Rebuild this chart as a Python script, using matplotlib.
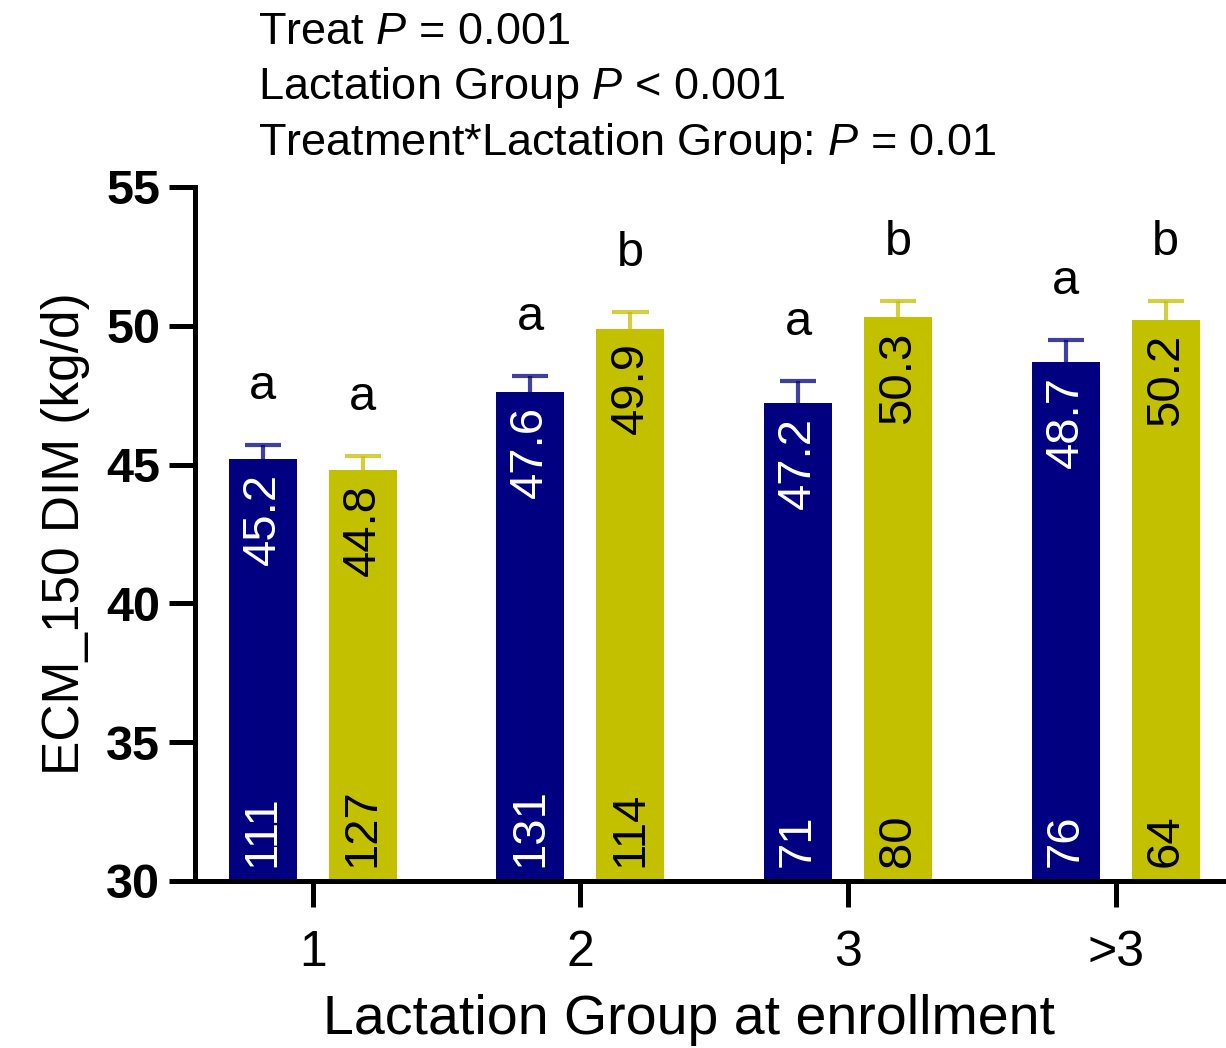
import numpy as np
import matplotlib
matplotlib.use("Agg")
import matplotlib.pyplot as plt

plt.rcParams['font.family'] = ['Liberation Sans', 'DejaVu Sans']
plt.rcParams['mathtext.fontset'] = 'custom'
plt.rcParams['mathtext.it'] = 'Liberation Sans:italic'
plt.rcParams['mathtext.rm'] = 'Liberation Sans'

# Data
grupos = ['1', '2', '3', '>3']
media_ctrl = [45.2, 47.6, 47.2, 48.7]
media_trat = [44.8, 49.9, 50.3, 50.2]
ep_ctrl = [0.5, 0.6, 0.8, 0.8]
ep_trat = [0.5, 0.6, 0.6, 0.7]
n_ctrl = [111, 131, 71, 76]
n_trat = [127, 114, 80, 64]
letras_ctrl = ['a', 'a', 'a', 'a']
letras_trat = ['a', 'b', 'b', 'b']

azul = '#000080'
amarelo = '#C3C000'

fig = plt.figure(figsize=(12.26, 10.48), dpi=100)
ax = fig.add_axes([0.159, 0.1594, 0.840, 0.6622])

x = np.arange(len(grupos))
largura = 0.254
desl = 0.187
cap = 0.135

for xs, medias, eps, ns, letras, cor, cor_txt in [
        (x - desl, media_ctrl, ep_ctrl, n_ctrl, letras_ctrl, azul, 'white'),
        (x + desl, media_trat, ep_trat, n_trat, letras_trat, amarelo, 'black')]:
    medias = np.array(medias)
    eps = np.array(eps)
    ax.bar(xs, medias, width=largura, color=cor, zorder=2)
    # barra de erro so para cima
    ax.vlines(xs, medias, medias + eps, color=cor, lw=3, alpha=0.75, zorder=1)
    ax.hlines(medias + eps, xs - cap / 2, xs + cap / 2, color=cor, lw=3, alpha=0.75, zorder=1)
    for xi, m, e, n, l in zip(xs, medias, eps, ns, letras):
        ax.annotate(f"{m:.1f}", (xi, m), xytext=(0, -10), textcoords='offset points',
                    rotation=90, ha='center', va='top', color=cor_txt, fontsize=34)
        ax.annotate(str(n), (xi, 30), xytext=(0, 10), textcoords='offset points',
                    rotation=90, ha='center', va='bottom', color=cor_txt, fontsize=34)
        ax.annotate(l, (xi, m + e), xytext=(0, 42), textcoords='offset points',
                    ha='center', va='center', color='black', fontsize=35)

ax.set_xlim(-0.44, 3.407)
ax.set_ylim(30, 55)
ax.set_yticks([30, 35, 40, 45, 50, 55])
ax.set_xticks(x)
ax.set_xticklabels(grupos, fontsize=36)
for lbl in ax.get_yticklabels():
    lbl.set_fontsize(35)
    lbl.set_fontweight('bold')

for s in ['top', 'right']:
    ax.spines[s].set_visible(False)
for s in ['left', 'bottom']:
    ax.spines[s].set_linewidth(3.6)
ax.tick_params(axis='both', direction='out', length=19, width=3.6, pad=6)
ax.tick_params(axis='x', pad=16)

ax.set_xlabel('Lactation Group at enrollment', fontsize=40)
ax.xaxis.set_label_coords(0.48, -0.163)
ax.set_ylabel('ECM_150 DIM (kg/d)', fontsize=37, labelpad=12)

linhas = ['Treat $P$ = 0.001', 'Lactation Group $P$ < 0.001',
          'Treatment*Lactation Group: $P$ = 0.01']
for i, t in enumerate(linhas):
    fig.text(0.2104, 1 - (33 + 55 * i) / 1048, t, fontsize=32.5, ha='left', va='center')

fig.savefig('out.png', dpi=100)
